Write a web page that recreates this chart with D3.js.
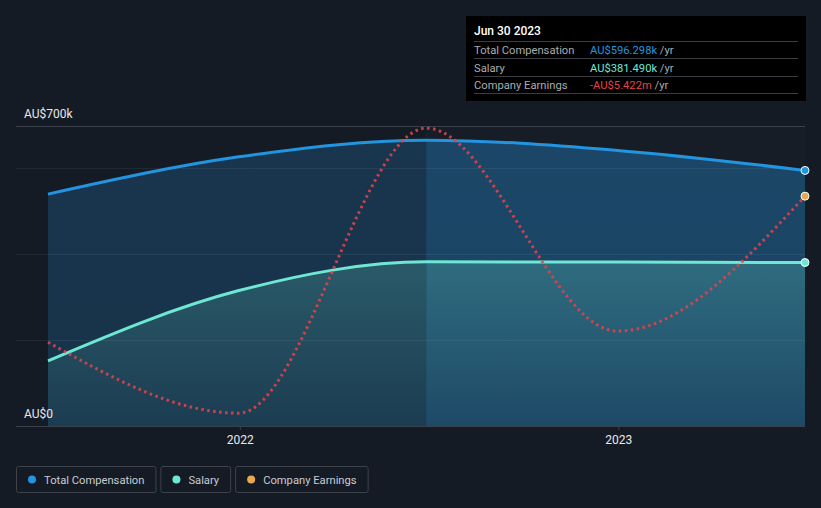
<!DOCTYPE html>
<html><head><meta charset="utf-8">
<script src="https://cdn.jsdelivr.net/npm/d3@7"></script>
<style>
html,body{margin:0;padding:0;background:#151b25;}
svg{display:block;font-family:Roboto,"Noto Sans",sans-serif;}
</style></head><body>
<svg id="c" width="821" height="508"></svg>
<script>
const dates = ["2021-06-30","2021-12-31","2022-06-30","2022-12-31","2023-06-30"];
const totalComp = [541000, 628000, 667000, 643000, 596298];
const salary = [152000, 316000, 383000, 382500, 381490];
const earnings = [-8.84, -10.50, -3.83, -8.58, -5.422]; // AU$m
const yTicks = [0, 200000, 400000, 600000, 700000];
const yLabels = {0:"AU$0", 700000:"AU$700k"};
const xTicks = ["2022-01-01","2023-01-01"];
const legendItems = [
  {name:"Total Compensation", color:"#2394df"},
  {name:"Salary", color:"#6ee7d3"},
  {name:"Company Earnings", color:"#e9a951"}
];
const tip = {title:"Jun 30 2023", rows:[
  {label:"Total Compensation", value:"AU$596.298k", color:"#2394df"},
  {label:"Salary", value:"AU$381.490k", color:"#6ee7d3"},
  {label:"Company Earnings", value:"-AU$5.422m", color:"#e5424a"}
]};

(function(){
const parse = d3.timeParse("%Y-%m-%d");
const D = dates.map(parse);
const svg = d3.select("#c");
const W = 821, H = 508;
const plotL = 16, plotR = 805, pTop = 126, pBottom = 426;
const x = d3.scaleTime().domain([D[0], D[D.length-1]]).range([48, 805]);
const y = d3.scaleLinear().domain([0, 700000]).range([pBottom, pTop]);
const yE = d3.scaleLinear().domain([-10.80, -3.78]).range([pBottom, pTop]);
const split = x(parse("2022-06-30"));

const defs = svg.append("defs");
function grad(id, color, o1, o2){
  const g = defs.append("linearGradient").attr("id", id).attr("x1",0).attr("x2",0).attr("y1",0).attr("y2",1);
  g.append("stop").attr("offset","0%").attr("stop-color",color).attr("stop-opacity",o1);
  g.append("stop").attr("offset","100%").attr("stop-color",color).attr("stop-opacity",o2);
}
grad("gTotL", "#2394df", 0.22, 0.20);
grad("gTotR", "#2394df", 0.35, 0.32);
grad("gSalL", "#6ee7d3", 0.21, 0.05);
grad("gSalR", "#6ee7d3", 0.24, 0.04);
defs.append("clipPath").attr("id","cl").append("rect").attr("x",0).attr("y",0).attr("width",split).attr("height",H);
defs.append("clipPath").attr("id","cr").append("rect").attr("x",split).attr("y",0).attr("width",W-split).attr("height",H);

svg.append("rect").attr("x", split).attr("y", pTop).attr("width", plotR - split).attr("height", pBottom - pTop)
  .attr("fill", "#ffffff").attr("opacity", 0.012);

const curve = d3.curveMonotoneX;
const idx = d3.range(D.length);
const areaT = d3.area().x(i => x(D[i])).y0(pBottom).y1(i => y(totalComp[i])).curve(curve);
const areaS = d3.area().x(i => x(D[i])).y0(pBottom).y1(i => y(salary[i])).curve(curve);
[["cl","gTotL","gSalL"],["cr","gTotR","gSalR"]].forEach(([c,gt,gs]) => {
  const g = svg.append("g").attr("clip-path", `url(#${c})`);
  g.append("path").attr("d", areaT(idx)).attr("fill", `url(#${gt})`);
  g.append("path").attr("d", areaS(idx)).attr("fill", `url(#${gs})`);
});

// faint divider at highlight start
svg.append("line").attr("x1", split).attr("x2", split).attr("y1", pTop).attr("y2", pBottom)
  .attr("stroke", "#2394df").attr("stroke-opacity", 0.08).attr("shape-rendering","crispEdges");

svg.append("g").selectAll("line").data(yTicks).join("line")
  .attr("x1", plotL).attr("x2", plotR)
  .attr("y1", d => y(d)).attr("y2", d => y(d))
  .attr("stroke", d => (d === 700000 || d === 0) ? "#3b414b" : "#ffffff")
  .attr("stroke-opacity", d => (d === 700000 || d === 0) ? 1 : 0.06)
  .attr("stroke-width", 1).attr("shape-rendering","crispEdges");

const lineT = d3.line().x(i => x(D[i])).y(i => y(totalComp[i])).curve(curve);
const lineS = d3.line().x(i => x(D[i])).y(i => y(salary[i])).curve(curve);
const lineE = d3.line().x(i => x(D[i])).y(i => yE(earnings[i])).curve(curve);
svg.append("path").attr("d", lineT(idx)).attr("fill","none").attr("stroke","#2394df").attr("stroke-width",3);
svg.append("path").attr("d", lineS(idx)).attr("fill","none").attr("stroke","#6ee7d3").attr("stroke-width",3);
svg.append("path").attr("d", lineE(idx)).attr("fill","none").attr("stroke","#e5424a").attr("stroke-width",3)
  .attr("stroke-opacity",0.88).attr("stroke-dasharray","2.5,3.5");

const last = D.length - 1;
[[y(totalComp[last]),"#2394df"],[yE(earnings[last]),"#e9a951"],[y(salary[last]),"#6ee7d3"]].forEach(([cy,col]) => {
  svg.append("circle").attr("cx", x(D[last])).attr("cy", cy).attr("r", 4)
    .attr("fill", col).attr("stroke","#ffffff").attr("stroke-width",1);
});

svg.append("g").selectAll("text").data(Object.keys(yLabels).map(Number)).join("text")
  .attr("x", 24).attr("y", d => y(d) - 8)
  .attr("fill","#e8e8e8").attr("font-size",12).text(d => yLabels[d]);

const xa = svg.append("g").attr("transform", `translate(0,${pBottom})`)
  .call(d3.axisBottom(x).tickValues(xTicks.map(parse)).tickFormat(d3.timeFormat("%Y")).tickSize(4).tickPadding(5));
xa.select(".domain").remove();
xa.selectAll("line").attr("stroke","#3b414b");
xa.selectAll("text").attr("fill","#e8e8e8").attr("font-size",12).attr("font-family","Roboto,sans-serif");

const tg = svg.append("g").attr("transform","translate(466,16)");
tg.append("rect").attr("width",340).attr("height",85).attr("fill","#000000");
tg.append("text").attr("x",8).attr("y",19).attr("fill","#ffffff").attr("font-size",12).attr("font-weight",500).text(tip.title);
tip.rows.forEach((r,i) => {
  const yy = 25 + i*17.5;
  tg.append("line").attr("x1",8).attr("x2",332).attr("y1",yy).attr("y2",yy).attr("stroke","#3a3d42").attr("shape-rendering","crispEdges");
  tg.append("text").attr("x",8).attr("y",yy+13).attr("fill","#a9acb0").attr("font-size",11.2).text(r.label);
  const t = tg.append("text").attr("x",124).attr("y",yy+13).attr("font-size",11.2);
  t.append("tspan").attr("fill",r.color).text(r.value);
  t.append("tspan").attr("fill","#a9acb0").text(" /yr");
});
tg.append("line").attr("x1",8).attr("x2",332).attr("y1",25+3*17.5).attr("y2",25+3*17.5).attr("stroke","#3a3d42").attr("shape-rendering","crispEdges");

const lg = svg.append("g").attr("transform","translate(16,466)");
let lx = 0;
legendItems.forEach(it => {
  const g = lg.append("g").attr("transform",`translate(${lx},0)`);
  const txt = g.append("text").attr("x",28).attr("y",17.5).attr("fill","#c9ccd0").attr("font-size",11.2).text(it.name);
  const w = txt.node().getComputedTextLength() + 39;
  g.insert("rect","text").attr("x",0.5).attr("y",0.5).attr("width",w).attr("height",26).attr("rx",2)
    .attr("fill","none").attr("stroke","#3d424b");
  g.append("circle").attr("cx",16).attr("cy",13.5).attr("r",4).attr("fill",it.color);
  lx += w + 5;
});
})();
</script></body></html>
